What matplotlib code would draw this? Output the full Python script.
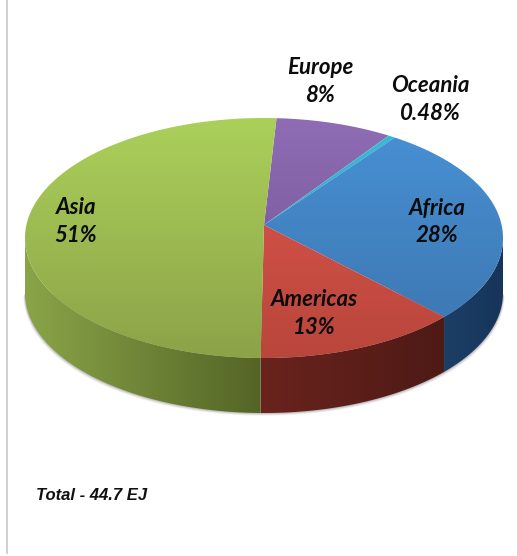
import numpy as np
import matplotlib
matplotlib.use('Agg')
import matplotlib.pyplot as plt
from matplotlib.patches import Polygon

# energy by region, clockwise from the top of the pie
regions = ['Europe', 'Oceania', 'Africa', 'Americas', 'Asia']
shares = [7.9, 0.48, 27.2, 13.8, 50.6]
share_labels = ['8%', '0.48%', '28%', '13%', '51%']
total_label = 'Total - 44.7 EJ'

top_light = ['#8f6db5', '#3bbcd8', '#4891d6', '#e0574c', '#abd05a']
top_dark = ['#6f4f8f', '#2f9cb8', '#3c75ad', '#b9463c', '#8ca348']
side_left = ['#5c4478', '#2a8aa0', '#1c3f66', '#6a231d', '#8aa548']
side_right = ['#5c4478', '#2a8aa0', '#17345a', '#4e1a16', '#546426']
label_pos = [(320, 67), (430, 86), (437, 208), (314, 300), (76, 208)]

cx, cy, rx, ry = 264, 238, 239, 120
apex = (264, 225)
depth = 55
start = 87

plt.rcParams['font.family'] = ['Lato', 'DejaVu Sans']

fig = plt.figure(figsize=(5.17, 5.56), dpi=100)
ax = fig.add_axes([0, 0, 1, 1])
ax.axis('off')


def rim(t1, t2, n=200):
    t = np.radians(np.linspace(t1, t2, n))
    return cx + rx * np.cos(t), cy - ry * np.sin(t)


def hex_rgb(c):
    return np.array(matplotlib.colors.to_rgb(c))


def shaded(poly, c1, c2, extent, vertical):
    grad = np.linspace(hex_rgb(c1), hex_rgb(c2), 256)
    grad = grad[:, None, :] if vertical else grad[None, :, :]
    im = ax.imshow(grad, extent=extent, aspect='auto', interpolation='bilinear', zorder=poly.get_zorder())
    ax.add_patch(poly)
    poly.set_visible(False)
    im.set_clip_path(poly)


# soft shadow under the rim
for off, a in [(4, 0.06), (3, 0.10), (2, 0.14), (1, 0.18)]:
    x, y = rim(0, -180)
    ax.add_patch(Polygon(np.column_stack([x + off * np.sign(x - cx) * 0.4, y + depth + off * 0.7]),
                         closed=True, fc='#606060', ec='none', alpha=a, zorder=1))

angle = start
edges = []
for s in shares:
    edges.append((angle, angle - s / sum(shares) * 360))
    angle = edges[-1][1]

# side wall, only the front half shows
for i, (t1, t2) in enumerate(edges):
    for lo, hi in [(0, -180), (-360, -540)]:
        a, b = min(t1, lo), max(t2, hi)
        if a <= b:
            continue
        x, y = rim(a, b)
        pts = np.column_stack([np.r_[x, x[::-1]], np.r_[y, y[::-1] + depth]])
        poly = Polygon(pts, closed=True, ec='none', zorder=2)
        c1, c2 = side_left[i], side_right[i]
        shaded(poly, c1, c2, (x.min(), x.max(), y.max() + depth, y.min()), False)

# top face, slices meet at the apex
for i, (t1, t2) in enumerate(edges):
    x, y = rim(t1, t2)
    pts = np.column_stack([np.r_[apex[0], x], np.r_[apex[1], y]])
    poly = Polygon(pts, closed=True, ec='none', zorder=3)
    shaded(poly, top_light[i], top_dark[i], (0, 517, cy + ry, cy - ry), True)

for name, lab, (lx, ly) in zip(regions, share_labels, label_pos):
    ax.text(lx, ly, name, ha='center', va='center', fontsize=16, fontweight='bold', style='italic', color='#0c0c0c', zorder=5)
    ax.text(lx, ly + 28, lab, ha='center', va='center', fontsize=16, fontweight='bold', style='italic', color='#0c0c0c', zorder=5)

ax.text(36, 496, total_label, ha='left', va='center', fontsize=12, fontweight='bold', style='italic',
        family=['Liberation Sans'], color='#111111', zorder=5)

# thin page edge on the left
ax.plot([6.5, 6.5], [0, 553], color='#c8c8c8', lw=1.2, zorder=1)

ax.set_xlim(0, 517)
ax.set_ylim(556, 0)
fig.savefig('out.png', dpi=100, facecolor='white')
